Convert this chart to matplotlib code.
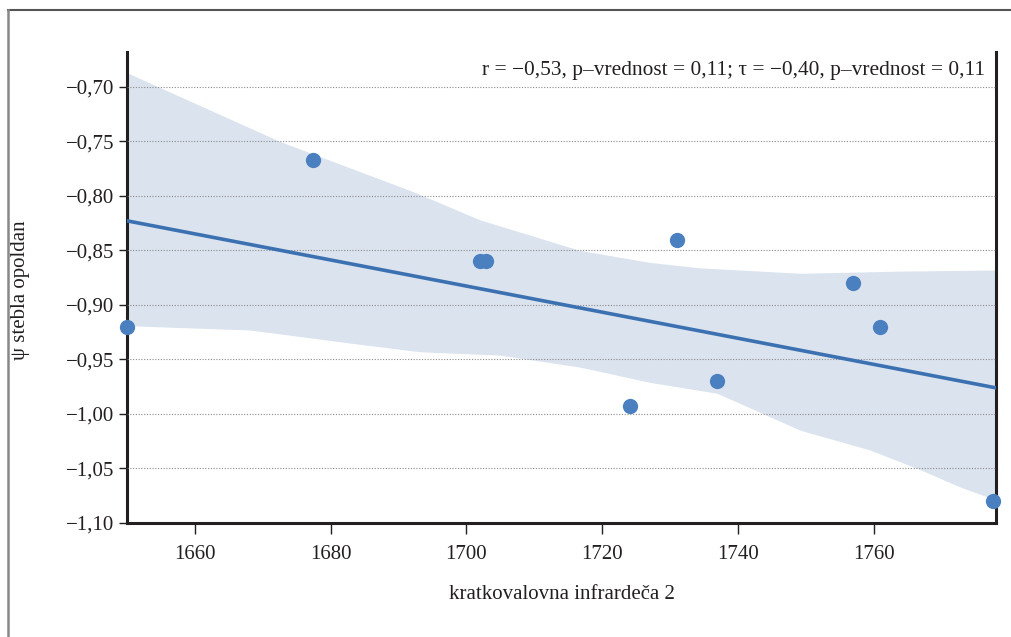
import numpy as np
import matplotlib
matplotlib.use("Agg")
import matplotlib.pyplot as plt
from matplotlib.ticker import FuncFormatter
from matplotlib.lines import Line2D

plt.rcParams['font.family'] = ['Liberation Serif', 'DejaVu Serif']

# measured points
swir2 = [1650.0, 1677.4, 1702.0, 1702.9, 1724.1, 1731.0, 1736.9, 1756.9, 1760.9, 1777.5]
psi = [-0.92, -0.767, -0.86, -0.86, -0.993, -0.84, -0.97, -0.88, -0.92, -1.08]

# confidence band edges
band_up_x = [1650.0, 1672.5, 1692.1, 1702.0, 1716.7, 1727.0, 1734.4, 1749.2, 1763.8, 1778.0]
band_up_y = [-0.687, -0.750, -0.796, -0.822, -0.850, -0.861, -0.866, -0.871, -0.869, -0.868]
band_lo_x = [1650.0, 1668.1, 1675.5, 1682.9, 1693.2, 1704.9, 1716.7, 1727.0, 1736.9,
             1749.2, 1759.4, 1766.8, 1772.7, 1778.0]
band_lo_y = [-0.919, -0.923, -0.929, -0.935, -0.943, -0.946, -0.957, -0.971, -0.981,
             -1.015, -1.033, -1.051, -1.067, -1.079]

stats_text = "r = \u22120,53, p\u2013vrednost = 0,11; \u03c4 = \u22120,40, p\u2013vrednost = 0,11"

fig = plt.figure(figsize=(10.11, 6.37), dpi=100)
ax = fig.add_axes([0.1256, 0.1790, 0.8596, 0.7394])

xs = np.linspace(1650, 1778, 200)
up = np.interp(xs, band_up_x, band_up_y)
lo = np.interp(xs, band_lo_x, band_lo_y)
ax.fill_between(xs, lo, up, color='#dbe3ef', lw=0, zorder=1)

slope, icpt = np.polyfit(swir2, psi, 1)
ax.plot(xs, slope * xs + icpt, color='#3c71b1', lw=2.6, zorder=3)
ax.plot(swir2, psi, 'o', ms=11, color='#4b80c0', mec='none', zorder=4, clip_on=False)

ax.set_xlim(1650, 1778)
ax.set_ylim(-1.10, -0.668)
ax.set_xticks([1660, 1680, 1700, 1720, 1740, 1760])
ax.set_yticks(np.arange(-1.10, -0.69, 0.05))
ax.yaxis.set_major_formatter(FuncFormatter(lambda v, p: ('%.2f' % v).replace('-', '\u2212').replace('.', ',')))
ax.grid(axis='y', ls=(0, (1, 1.5)), color='#8a8a8a', lw=0.8, zorder=2)
ax.set_axisbelow(False)

for s in ['left', 'bottom', 'right']:
    ax.spines[s].set_linewidth(2.2)
    ax.spines[s].set_color('#231f20')
ax.spines['top'].set_visible(False)
ax.tick_params(axis='both', direction='out', width=1, color='#231f20',
               labelsize=15, labelcolor='#231f20')
ax.tick_params(axis='y', length=6, pad=3)
ax.tick_params(axis='x', length=8, pad=8)
ax.tick_params(axis='y', which='both', right=False)

ax.set_xlabel('kratkovalovna infrarde\u010da 2', fontsize=15, color='#231f20')
ax.xaxis.set_label_coords(0.5, -0.132)
ax.set_ylabel('\u03c8 stebla opoldan', fontsize=15, color='#231f20')
ax.yaxis.set_label_coords(-0.112, 0.495)

ax.text(0.987, 0.960, stats_text, transform=ax.transAxes, ha='right', va='center',
        fontsize=15.4, color='#231f20', zorder=5)

# page frame
fig.add_artist(Line2D([8 / 1011, 1], [1 - 10 / 637, 1 - 10 / 637], color='#555555', lw=1.5))
fig.add_artist(Line2D([8 / 1011, 8 / 1011], [0, 1 - 10 / 637], color='#888888', lw=1.8))

fig.savefig('out.png', dpi=100)
